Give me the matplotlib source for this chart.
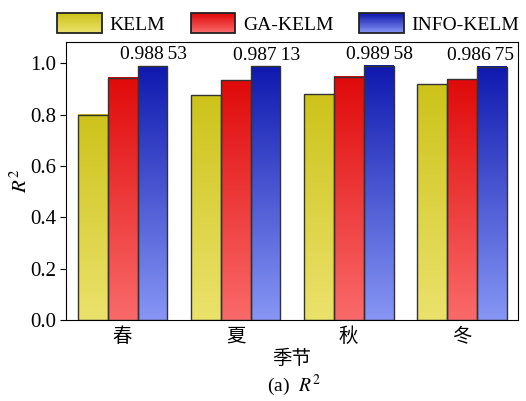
import numpy as np
import matplotlib
matplotlib.use('Agg')
import matplotlib.pyplot as plt
from matplotlib.colors import LinearSegmentedColormap
from matplotlib.legend_handler import HandlerBase
from matplotlib.patches import Rectangle

seasons = ['春', '夏', '秋', '冬']
models = ['KELM', 'GA-KELM', 'INFO-KELM']
kelm = [0.800, 0.875, 0.878, 0.917]
ga_kelm = [0.943, 0.934, 0.947, 0.938]
info_kelm = [0.98853, 0.98713, 0.98958, 0.98675]
info_labels = ['0.988\u200953', '0.987\u200913', '0.989\u200958', '0.986\u200975']

# (top colour, bottom colour) for each model
grads = [('#cdc31a', '#ebe26c'), ('#e00a0a', '#fa6a6a'), ('#0f19af', '#8796f5')]

plt.rcParams['font.family'] = ['Liberation Serif', 'Noto Sans CJK SC']
plt.rcParams['mathtext.fontset'] = 'stix'
plt.rcParams['font.size'] = 14

fig = plt.figure(figsize=(5.26, 4.01), dpi=100)
ax = fig.add_axes([0.1255, 0.202, 0.8595, 0.693])

x = np.arange(len(seasons))
w = 0.265
grad = np.linspace(1, 0, 256).reshape(-1, 1)

for i, vals in enumerate([kelm, ga_kelm, info_kelm]):
    cmap = LinearSegmentedColormap.from_list(models[i], [grads[i][1], grads[i][0]])
    xs = x + (i - 1) * w
    bars = ax.bar(xs, vals, w, facecolor='none', edgecolor='#333333', linewidth=1, zorder=3)
    for b in bars:
        x0, y0 = b.get_x(), b.get_y()
        ax.imshow(grad, cmap=cmap, aspect='auto', zorder=2,
                  extent=[x0, x0 + b.get_width(), y0, y0 + b.get_height()])

# last label is pulled left so it stays inside the frame
for k, (xi, v, lab) in enumerate(zip(x + w, info_kelm, info_labels)):
    dx = -8 if k == len(info_labels) - 1 else 0.5
    ax.annotate(lab, (xi, v), xytext=(dx, 2), textcoords='offset points',
                ha='center', va='bottom', fontsize=14)

ax.set_xlim(-0.5, 3.5)
ax.set_ylim(0, 1.082)
ax.set_yticks([0, 0.2, 0.4, 0.6, 0.8, 1.0])
ax.set_yticklabels(['0.0', '0.2', '0.4', '0.6', '0.8', '1.0'], fontsize=15)
ax.set_xticks(x)
ax.set_xticklabels(seasons, fontfamily='Noto Sans CJK SC', fontsize=14)
ax.tick_params(axis='x', length=0, pad=4)
ax.tick_params(axis='y', length=4, direction='out', pad=3)
ax.set_ylabel('$R^2$', labelpad=-1, fontsize=15)
ax.set_xlabel('季节', fontfamily='Noto Sans CJK SC', labelpad=1)
fig.text(0.559, 0.04, '(a)  $R^2$', ha='center', va='center')


class GradHandler(HandlerBase):
    def __init__(self, top, bottom):
        super().__init__()
        self.top, self.bottom = top, bottom

    def create_artists(self, legend, orig_handle, xdescent, ydescent, width, height, fontsize, trans):
        cmap = LinearSegmentedColormap.from_list('h', [self.bottom, self.top])
        n = 24
        arts = []
        for k in range(n):
            r = Rectangle((-xdescent, -ydescent + height * k / n), width, height / n + 0.3,
                          facecolor=cmap(k / (n - 1)), edgecolor='none', transform=trans)
            arts.append(r)
        arts.append(Rectangle((-xdescent, -ydescent), width, height, facecolor='none',
                              edgecolor='#222222', linewidth=1.3, transform=trans))
        return arts


handles = [Rectangle((0, 0), 1, 1) for _ in models]
fig.legend(handles, models, loc='upper center', bbox_to_anchor=(0.548, 1.01), ncol=3,
           frameon=False, fontsize=14, handlelength=2.3, handleheight=1.2,
           handletextpad=0.4, columnspacing=1.3,
           handler_map={h: GradHandler(*g) for h, g in zip(handles, grads)})

fig.savefig('out.png', dpi=100)
